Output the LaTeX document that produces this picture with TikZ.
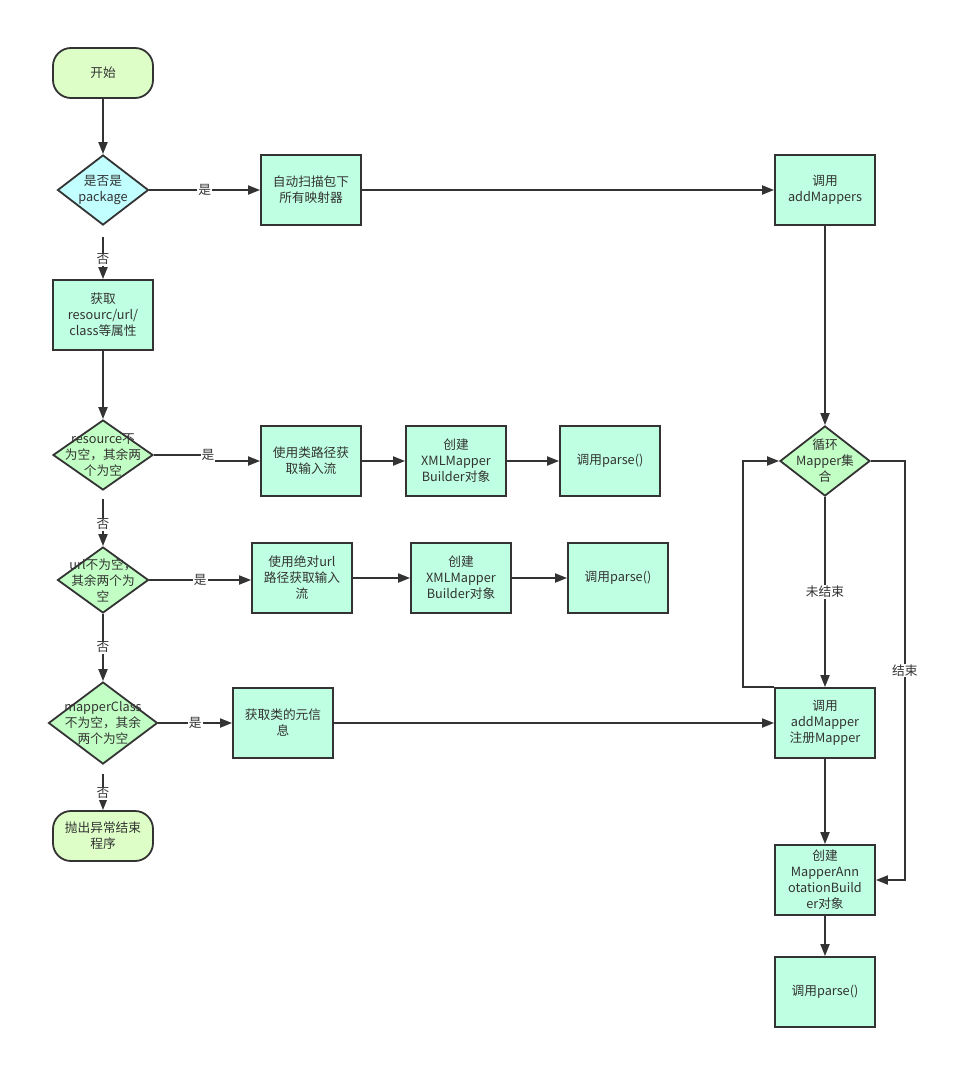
\documentclass[tikz,border=0pt]{standalone}
\usepackage{fontspec}
\setmainfont{Noto Sans CJK SC}
\usepackage{xcolor}
\usetikzlibrary{shapes.geometric, arrows.meta, positioning}
\definecolor{lineGray}{HTML}{333333}
\definecolor{termGreen}{HTML}{DDFFC7}
\definecolor{boxMint}{HTML}{BFFFE2}
\definecolor{decCyan}{HTML}{C2FFFF}
\definecolor{decGreen}{HTML}{C2FFC4}

\begin{document}
\begin{tikzpicture}[x=1pt, y=-1pt, font=\fontsize{12.7}{16}\selectfont, text=lineGray,
    flow/.style={draw=lineGray, line width=1.8pt, -{Triangle[length=12pt,width=9pt]}},
    proc/.style={draw=lineGray, line width=1.8pt, fill=boxMint, minimum width=100pt, minimum height=70pt, align=center, inner sep=2pt},
    term/.style={draw=lineGray, line width=1.8pt, fill=termGreen, rounded corners=18pt, minimum width=100pt, minimum height=50pt, align=center},
    decide/.style={draw=lineGray, line width=1.8pt, diamond, inner sep=0pt, fill=decGreen},
    lbl/.style={fill=white, inner sep=1pt}]
    % 画布
    \fill[white] (0,0) rectangle (966,1089);
    \useasboundingbox (0,0) rectangle (966,1089);

    % 左侧主流程
    \node[term] (start) at (103,73) {开始};
    \node[decide, fill=decCyan, minimum width=91pt, minimum height=70pt,
        label={[align=center]center:{是否是\\package}}] (isPkg) at (103,190) {};
    \node[proc] (getAttr) at (103,315) {获取\\resourc/url/\\class等属性};
    \node[decide, minimum width=100pt, minimum height=70pt,
        label={[align=center]center:{resource不\\为空，其余两\\个为空}}] (isRes) at (103,455) {};
    \node[decide, minimum width=91pt, minimum height=66pt,
        label={[align=center]center:{url不为空，\\其余两个为\\空}}] (isUrl) at (103,580) {};
    \node[decide, minimum width=109pt, minimum height=82pt,
        label={[align=center]center:{mapperClass\\不为空，其余\\两个为空}}] (isClass) at (103,723) {};
    \node[term] (fail) at (103,836) {抛出异常结束\\程序};

    % 各分支
    \node[proc] (scan) at (311,190) {自动扫描包下\\所有映射器};
    \node[proc] (resStream) at (311,461) {使用类路径获\\取输入流};
    \node[proc] (resBuilder) at (456,461) {创建\\XMLMapper\\Builder对象};
    \node[proc] (resParse) at (610,461) {调用parse()};
    \node[proc] (urlStream) at (302,578) {使用绝对url\\路径获取输入\\流};
    \node[proc] (urlBuilder) at (461,578) {创建\\XMLMapper\\Builder对象};
    \node[proc] (urlParse) at (618,578) {调用parse()};
    \node[proc] (classMeta) at (283,723) {获取类的元信\\息};

    % 右侧 Mapper 注册
    \node[proc] (addMappers) at (825,190) {调用\\addMappers};
    \node[decide, minimum width=90pt, minimum height=70pt,
        label={[align=center]center:{循环\\Mapper集\\合}}] (loop) at (825,461) {};
    \node[proc] (addMapper) at (825,723) {调用\\addMapper\\注册Mapper};
    \node[proc] (annotBuilder) at (825,880) {创建\\MapperAnn\\otationBuild\\er对象};
    \node[proc] (annotParse) at (825,992) {调用parse()};

    % 连线
    \draw[flow] (start) -- (isPkg);
    \draw[flow] (isPkg) -- node[lbl]{是} (scan);
    \draw[flow, shorten <=11pt] (isPkg) -- node[lbl, pos=0.63]{否} (getAttr);
    \draw[flow] (scan) -- (addMappers);
    \draw[flow] (addMappers) -- (loop);
    \draw[flow] (getAttr) -- (isRes);
    \draw[flow] (isRes.east) -- ++(54,0) node[lbl]{是} |- (resStream.west);
    \draw[flow] (resStream) -- (resBuilder);
    \draw[flow] (resBuilder) -- (resParse);
    \draw[flow, shorten <=8pt] (isRes) -- node[lbl, pos=0.6]{否} (isUrl);
    \draw[flow] (isUrl.east) -- node[lbl]{是} (isUrl.east -| urlStream.west);
    \draw[flow] (urlStream) -- (urlBuilder);
    \draw[flow] (urlBuilder) -- (urlParse);
    \draw[flow] (isUrl) -- node[lbl]{否} (isClass);
    \draw[flow] (isClass) -- node[lbl]{是} (classMeta);
    \draw[flow, shorten <=9pt] (isClass) -- node[lbl, pos=0.63]{否} (fail);
    \draw[flow] (classMeta) -- (addMapper);
    \draw[flow] (loop) -- node[lbl]{未结束} (addMapper);
    \draw[flow] (addMapper.north west) -- ++(-31,0) |- (loop.west);
    \draw[flow] (loop.east) -- ++(34,0) -- node[lbl]{结束} ++(0,419) -- (annotBuilder.east);
    \draw[flow] (addMapper) -- (annotBuilder);
    \draw[flow] (annotBuilder) -- (annotParse);
\end{tikzpicture}
\end{document}
